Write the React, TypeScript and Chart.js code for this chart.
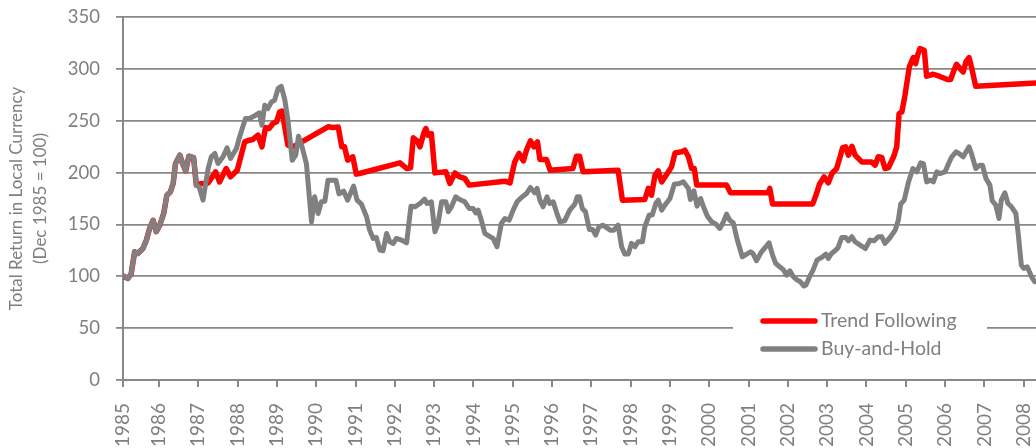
import React, { useEffect, useRef } from 'react';
import { Chart, registerables } from 'chart.js';

Chart.register(...registerables);

const seriesNames = ['Trend Following', 'Buy-and-Hold'];

const trendYears = [
  1985.084, 1985.21, 1985.29, 1985.38, 1985.46, 1985.59, 1985.68, 1985.76, 1985.85, 1985.93,
  1986.02, 1986.12, 1986.2, 1986.29, 1986.36, 1986.42, 1986.53, 1986.6, 1986.68, 1986.76, 1986.88, 1986.95,
  1987.02, 1987.25, 1987.44, 1987.54, 1987.71, 1987.82, 1987.99,
  1988.18, 1988.3, 1988.39, 1988.52, 1988.62, 1988.71, 1988.8, 1988.9, 1988.99,
  1989.07, 1989.13, 1989.2, 1989.28, 1989.41,
  1990.3, 1990.42, 1990.56, 1990.65, 1990.72, 1990.8, 1990.93,
  1991.02, 1991.1,
  1992.13, 1992.3, 1992.4, 1992.47, 1992.57, 1992.64, 1992.74, 1992.79, 1992.85, 1992.93,
  1993.02, 1993.3, 1993.4, 1993.53, 1993.65, 1993.78, 1993.89,
  1994.8, 1994.93,
  1995.05, 1995.16, 1995.27, 1995.35, 1995.45, 1995.54, 1995.63, 1995.69, 1995.86, 1995.95,
  1996.53, 1996.62, 1996.7, 1996.79,
  1997.68, 1997.79,
  1998.36, 1998.45, 1998.53, 1998.62, 1998.7, 1998.79, 1998.96,
  1999.04, 1999.13, 1999.3, 1999.38, 1999.47, 1999.55, 1999.62, 1999.68,
  2000.44, 2000.54,
  2001.5, 2001.54, 2001.61,
  2002.63, 2002.73, 2002.8, 2002.92,
  2003.03, 2003.12, 2003.24, 2003.33, 2003.39, 2003.47, 2003.54, 2003.63, 2003.71, 2003.88,
  2004.13, 2004.22, 2004.3, 2004.39, 2004.47, 2004.56, 2004.69, 2004.77, 2004.83, 2004.9, 2004.98,
  2005.09, 2005.19, 2005.25, 2005.3, 2005.36, 2005.47, 2005.53, 2005.7, 2005.85,
  2006.06, 2006.14, 2006.21, 2006.29, 2006.38, 2006.46, 2006.53, 2006.61, 2006.67, 2006.78,
  2008.33,
];
const trendValues = [
  100.2, 97.9, 102, 123.6, 122, 126.8, 134.9, 146, 154, 143,
  149.3, 160.6, 178.2, 181.4, 189.5, 208.7, 216.8, 208.7, 201.7, 215.8, 214.5, 187.9,
  189, 190, 200.7, 191, 203.9, 195.9, 202.3,
  229.6, 231.2, 231.9, 236, 224.8, 243.4, 242.5, 247.3, 248.9,
  258.5, 259.2, 244, 226.4, 224.8,
  244.1, 243.4, 244, 224.8, 224.8, 212, 215.2,
  198.5, 199.1,
  209.4, 203.9, 204.6, 233.5, 230.6, 224.8, 238.3, 242.5, 236, 237.6,
  199.7, 200.7, 189.5, 199.7, 195.9, 194.3, 187.9,
  191.7, 190.1,
  210.3, 218.4, 211.3, 221.6, 230.6, 224.8, 229.6, 212.6, 212.6, 202.3,
  203.9, 215.8, 215.8, 200.7,
  202.3, 173.4,
  174, 184.7, 178.2, 197.5, 201.7, 191, 200.7,
  205.5, 219, 220, 221.6, 215.2, 203.9, 203.9, 187.9,
  187.9, 180.5,
  180.5, 184.7, 169.6,
  169.6, 179.8, 188.5, 195.9,
  190.1, 199.1, 203.9, 215.2, 223.8, 224.8, 216.8, 225.4, 216.8, 210.3,
  210.3, 207.1, 215.2, 214.5, 203.9, 204.9, 215.2, 224.8, 256.9, 258.5, 274.6,
  301.9, 310.9, 305.1, 313.1, 319.5, 317.9, 292.9, 294.8, 292.9,
  289.7, 289.7, 297, 304.4, 300.3, 297, 306.7, 310.9, 301.9, 283.2,
  286.5,
];

const holdYears = [
  1985.084, 1985.21, 1985.29, 1985.38, 1985.46, 1985.59, 1985.68, 1985.76, 1985.85, 1985.93,
  1986.02, 1986.12, 1986.2, 1986.29, 1986.36, 1986.42, 1986.53, 1986.6, 1986.68, 1986.76, 1986.88, 1986.95,
  1987.02, 1987.12, 1987.25, 1987.33, 1987.42, 1987.5, 1987.63, 1987.73, 1987.82, 1987.97,
  1988.05, 1988.2, 1988.3, 1988.46, 1988.55, 1988.62, 1988.69, 1988.77, 1988.86, 1988.94,
  1989.03, 1989.11, 1989.2, 1989.28, 1989.39, 1989.48, 1989.55, 1989.64, 1989.75, 1989.88, 1989.96,
  1990.05, 1990.13, 1990.22, 1990.3, 1990.5, 1990.58, 1990.7, 1990.8, 1990.95,
  1991.04, 1991.15, 1991.28, 1991.36, 1991.45, 1991.53, 1991.62, 1991.7, 1991.79, 1991.87, 1991.96,
  1992.04, 1992.17, 1992.3, 1992.41, 1992.51, 1992.64, 1992.76, 1992.82, 1992.93,
  1993.02, 1993.1, 1993.19, 1993.3, 1993.36, 1993.44, 1993.55, 1993.65, 1993.78, 1993.89, 1993.99,
  1994.06, 1994.12, 1994.2, 1994.29, 1994.4, 1994.5, 1994.6, 1994.71, 1994.8, 1994.91,
  1995.01, 1995.11, 1995.22, 1995.35, 1995.45, 1995.56, 1995.62, 1995.69, 1995.77, 1995.87, 1995.94,
  1996.03, 1996.11, 1996.2, 1996.32, 1996.45, 1996.58, 1996.64, 1996.7, 1996.77, 1996.85, 1996.95,
  1997.03, 1997.11, 1997.19, 1997.3, 1997.38, 1997.48, 1997.57, 1997.68, 1997.77, 1997.85, 1997.94,
  1998.02, 1998.11, 1998.19, 1998.3, 1998.36, 1998.47, 1998.55, 1998.64, 1998.7, 1998.79, 1998.87,
  1999.0, 1999.11, 1999.24, 1999.34, 1999.47, 1999.52, 1999.61, 1999.69, 1999.78, 1999.86, 1999.95,
  2000.06, 2000.17, 2000.27, 2000.36, 2000.44, 2000.52, 2000.61, 2000.71, 2000.84, 2000.95,
  2001.05, 2001.11, 2001.2, 2001.33, 2001.44, 2001.52, 2001.61, 2001.69, 2001.79, 2001.88, 2001.97,
  2002.05, 2002.14, 2002.24, 2002.32, 2002.41, 2002.46, 2002.56, 2002.64, 2002.74, 2002.86, 2002.97,
  2003.03, 2003.11, 2003.2, 2003.28, 2003.37, 2003.47, 2003.54, 2003.63, 2003.71, 2003.84, 2003.97,
  2004.09, 2004.19, 2004.3, 2004.39, 2004.47, 2004.6, 2004.73, 2004.81, 2004.87, 2004.96,
  2005.07, 2005.18, 2005.28, 2005.38, 2005.45, 2005.53, 2005.62, 2005.7, 2005.79, 2005.87,
  2006.0, 2006.09, 2006.17, 2006.28, 2006.38, 2006.46, 2006.55, 2006.61, 2006.67, 2006.78, 2006.88, 2006.95,
  2007.04, 2007.14, 2007.2, 2007.29, 2007.37, 2007.43, 2007.52, 2007.6, 2007.69, 2007.8, 2007.86, 2007.94,
  2008.0, 2008.09, 2008.2, 2008.28, 2008.33,
];
const holdValues = [
  100.2, 97.9, 102, 123.6, 122, 126.8, 134.9, 146, 154, 143,
  149.3, 160.6, 178.2, 181.4, 189.5, 208.7, 216.8, 208.7, 201.7, 215.8, 214.5, 187.9,
  186.3, 173.4, 203.9, 215.2, 218.4, 208.7, 215.2, 223.8, 213.6, 223.2,
  234.4, 252.1, 252.1, 255.3, 257.5, 245.7, 264.9, 261.7, 268.1, 269.7,
  281, 283.2, 270.4, 250.5, 211.9, 216.8, 235.1, 224.8, 208.7, 152.5, 176.6,
  160.6, 171.8, 172.4, 192.7, 192.7, 179.5, 182, 173.4, 187,
  173.4, 169.6, 157.4, 144.5, 136.5, 137.4, 125.2, 124.6, 141.3, 133.3, 131.7,
  136.5, 134.9, 132.3, 167.6, 167, 170.2, 174.4, 170.2, 171.8,
  142.9, 150.9, 171.8, 171.8, 162.2, 167, 176.6, 174, 171.8, 165.4, 165.4,
  161.2, 163.8, 154.1, 141.3, 138.7, 136.5, 128.5, 150.9, 155.7, 154.1,
  163.8, 171.8, 176, 179.8, 185.6, 180.5, 184.7, 173.4, 167, 176.6, 170.2,
  171.8, 162.2, 152.5, 153.5, 163.8, 169.6, 176.6, 176.6, 165.4, 162.2, 145.2,
  145.2, 139.7, 147.7, 149.3, 147.1, 144.5, 144.5, 149.3, 128.5, 121.4, 121.4,
  131.7, 128.5, 133.3, 133.3, 147.7, 159, 159, 170.2, 173.4, 163.8, 168.6,
  175, 188.8, 189.5, 191.1, 184.7, 174, 182.5, 167.6, 175, 166.3, 158,
  152.5, 150.3, 146.1, 152.5, 159.9, 154.1, 151.6, 135.5, 118.8, 121.4,
  123.6, 122, 115, 123.6, 128.5, 132.3, 120.4, 112.4, 109.2, 106.6, 101.2,
  105.3, 99.5, 96.3, 94.7, 90.6, 91.5, 100.2, 106, 115.6, 118.2, 121.4,
  117.2, 122, 124.6, 127.8, 137.4, 137.4, 134.2, 138.1, 133.3, 130.1, 126.8,
  134.9, 134.2, 138.1, 138.1, 131.7, 137.4, 144.5, 154.1, 169.6, 173.4,
  191, 203.9, 200.7, 209.4, 208.7, 191, 192.7, 191, 200.7, 199.1,
  200.7, 208.7, 215.2, 220, 217.7, 215.2, 221, 224.8, 218.4, 203.9, 207.1, 207.1,
  194.3, 187.9, 172.8, 168.6, 155.7, 173.4, 180.5, 170.2, 167, 160.6, 141.3, 110.8,
  107.6, 109.2, 99.5, 94.7, 95,
];

const tickYears = [
  1985, 1986, 1987, 1988, 1989, 1990, 1991, 1992, 1993, 1994, 1995, 1996,
  1997, 1998, 1999, 2000, 2001, 2002, 2003, 2004, 2005, 2006, 2007, 2008,
];
const tickLabels = tickYears.map(String);

const X_MIN = 1985.084;
const X_MAX = 2008.313;
const TEXT = '#7f7f7f';
const GRID = '#888888';
const FONT = 'Lato';

const legendPlugin = {
  id: 'insideLegend',
  afterDraw(chart: any) {
    const ctx = chart.ctx as CanvasRenderingContext2D;
    ctx.save();
    ctx.fillStyle = '#ffffff';
    ctx.fillRect(733, 300, 254, 68);
    chart.data.datasets.forEach((ds: any, i: number) => {
      const y = 321 + i * 28;
      ctx.strokeStyle = ds.borderColor;
      ctx.lineWidth = 5.5;
      ctx.lineCap = 'round';
      ctx.beginPath();
      ctx.moveTo(763, y);
      ctx.lineTo(815, y);
      ctx.stroke();
      ctx.fillStyle = TEXT;
      ctx.font = `19.5px ${FONT}`;
      ctx.textBaseline = 'middle';
      ctx.textAlign = 'left';
      ctx.fillText(ds.label, 821, y);
    });
    ctx.restore();
  },
};

export default function App() {
  const ref = useRef<HTMLCanvasElement | null>(null);

  useEffect(() => {
    if (!ref.current) return;
    const chart = new Chart(ref.current, {
      type: 'line',
      data: {
        datasets: [
          {
            label: seriesNames[0],
            data: trendYears.map((x, i) => ({ x, y: trendValues[i] })),
            borderColor: '#ff0000',
            backgroundColor: '#ff0000',
            borderWidth: 5.5,
            pointRadius: 0,
            tension: 0,
            borderJoinStyle: 'round',
            borderCapStyle: 'round',
            order: 1,
          },
          {
            label: seriesNames[1],
            data: holdYears.map((x, i) => ({ x, y: holdValues[i] })),
            borderColor: '#808080',
            backgroundColor: '#808080',
            borderWidth: 5,
            pointRadius: 0,
            tension: 0,
            borderJoinStyle: 'round',
            borderCapStyle: 'round',
            order: 0,
          },
        ],
      },
      options: {
        responsive: false,
        animation: false,
        events: [],
        layout: { padding: { top: 17, left: 0, right: 0, bottom: 0 } },
        plugins: {
          legend: { display: false },
          tooltip: { enabled: false },
        },
        scales: {
          x: {
            type: 'linear',
            min: X_MIN,
            max: X_MAX,
            afterBuildTicks: (scale: any) => {
              scale.ticks = tickYears.map((y, i) => ({ value: i === 0 ? X_MIN : y }));
            },
            afterFit: (scale: any) => {
              scale.height = 68;
              scale.paddingLeft = 0;
              scale.paddingRight = 0;
            },
            grid: {
              drawOnChartArea: false,
              drawTicks: true,
              tickLength: 7,
              color: GRID,
              lineWidth: 2,
            },
            border: { display: true, color: GRID, width: 2 },
            ticks: {
              autoSkip: false,
              minRotation: 90,
              maxRotation: 90,
              padding: 16,
              color: TEXT,
              font: { family: FONT, size: 19 },
              callback: (_v: any, i: number) => tickLabels[i],
            },
          },
          y: {
            min: 0,
            max: 350,
            afterFit: (scale: any) => {
              scale.width = 123;
              scale.paddingTop = 0;
              scale.paddingBottom = 0;
            },
            ticks: {
              stepSize: 50,
              padding: 16,
              color: TEXT,
              font: { family: FONT, size: 18.5 },
            },
            grid: {
              color: GRID,
              lineWidth: 1.8,
              drawTicks: true,
              tickLength: 7,
            },
            border: { display: true, color: GRID, width: 2 },
            title: {
              display: true,
              text: ['Total Return in Local Currency', '(Dec 1985 = 100)'],
              color: TEXT,
              font: { family: FONT, size: 17, lineHeight: 1.4 },
              padding: { top: 5, bottom: 0 },
            },
          },
        },
      },
      plugins: [legendPlugin],
    });
    return () => chart.destroy();
  }, []);

  return (
    <div style={{ position: 'fixed', left: 0, top: 0, width: 1036, height: 448, background: '#fff' }}>
      <canvas ref={ref} width={1036} height={448} style={{ display: 'block' }} />
    </div>
  );
}
